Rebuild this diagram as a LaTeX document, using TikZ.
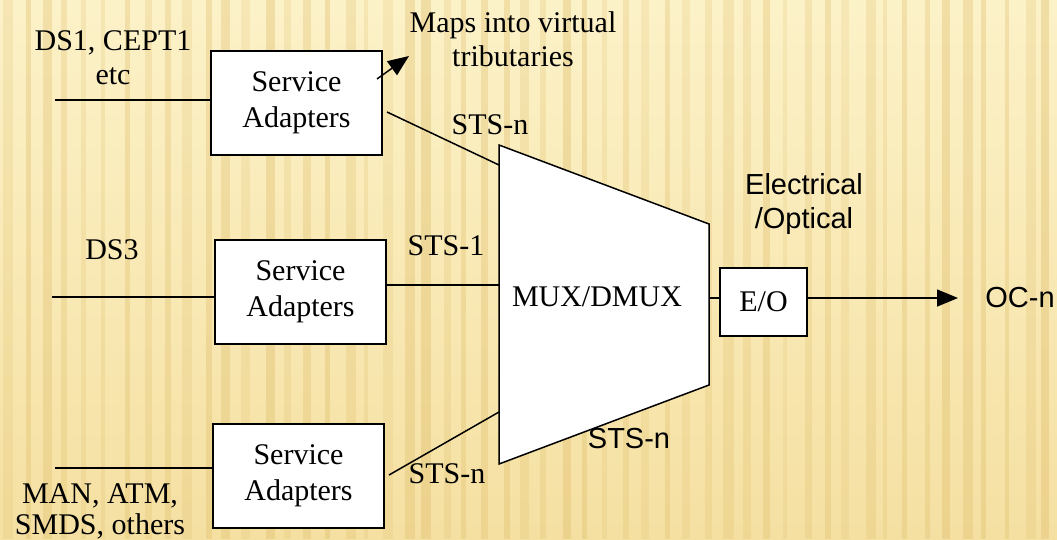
\documentclass[tikz,border=0pt]{standalone}
\usepackage{fontspec}
\setmainfont{Liberation Serif}
\setsansfont{Liberation Sans}
\usetikzlibrary{arrows.meta}
\definecolor{bgtop}{RGB}{252,242,200}
\definecolor{bgbot}{RGB}{245,224,162}
\definecolor{stripe}{RGB}{222,188,105}
\begin{document}
\begin{tikzpicture}[x=1pt,y=-1pt,
  wire/.style={line width=1.5pt},
  arr/.style={line width=1.5pt,-{Triangle[length=21pt,width=17pt]}},
  adapter/.style={draw,fill=white,line width=1.5pt,inner sep=0pt,
    minimum width=171pt,minimum height=104pt,align=center,
    font=\fontsize{30}{36}\selectfont},
  eobox/.style={draw,fill=white,line width=1.5pt,inner sep=0pt,
    minimum width=87pt,minimum height=68pt,
    font=\fontsize{30}{36}\selectfont},
  lbl/.style={align=center,inner sep=0pt,font=\fontsize{30}{34}\selectfont},
  slbl/.style={align=center,inner sep=0pt,font=\sffamily\fontsize{29}{34}\selectfont}]
\useasboundingbox (0,0) rectangle (1057,539);
% textured paper background
\shade[top color=bgtop,bottom color=bgbot] (0,0) rectangle (1057,539);
\pgfmathsetseed{7}
\foreach \i in {0,...,53}{
  \pgfmathsetmacro\w{4+7*rnd}
  \pgfmathsetmacro\o{0.18+0.2*rnd}
  \fill[stripe,opacity=\o] (\i*20+6*rnd,0) rectangle ++(\w,539);
}

% service adapters
\node[adapter] (b1) at (296.5,103) {Service\\Adapters};
\node[adapter] (b2) at (300.5,292) {Service\\Adapters};
\node[adapter] (b3) at (298.5,476) {Service\\Adapters};

% multiplexer trapezoid
\coordinate (tl) at (499,145);
\coordinate (tr) at (709,224);
\coordinate (br) at (709,385);
\coordinate (bl) at (499,464);
\filldraw[fill=white,line width=1.5pt,line join=miter] (tl) -- (tr) -- (br) -- (bl) -- cycle;
\node[lbl] (mux) at (597,297) {MUX/DMUX};

% electrical/optical converter
\node[eobox] (eo) at (763.5,302) {E/O};
\coordinate (mo) at (709,298);
\coordinate (oc) at (958,298);

% inputs
\coordinate (in1) at (55,100);
\coordinate (in2) at (52,297);
\coordinate (in3) at (55,468);
\draw[wire] (in1) -- (in1 -| b1.west);
\draw[wire] (in2) -- (in2 -| b2.west);
\draw[wire] (in3) -- (in3 -| b3.west);

% adapter outputs into the multiplexer
\coordinate (o1) at (387,112);
\coordinate (m1) at (499,165);
\coordinate (m2) at (499,285);
\coordinate (o3) at (389,475);
\coordinate (m3) at (499,412);
\draw[wire] (o1) -- (m1);
\draw[wire] (b2.east |- m2) -- (m2);
\draw[wire] (o3) -- (m3);

% virtual tributary arrow
\coordinate (vt0) at (377,79);
\coordinate (vt1) at (409,56);
\draw[arr] (vt0) -- (vt1);

% output chain
\draw[wire] (mo) -- (eo.west |- mo);
\draw[arr] (eo.east |- oc) -- (oc);

% labels
\node[lbl] (l1) at (113,58) {DS1, CEPT1\\etc};
\node[lbl] (l2) at (513,39) {Maps into virtual\\tributaries};
\node[lbl] (l3) at (490,125) {STS-n};
\node[lbl] (l4) at (112,250) {DS3};
\node[lbl] (l5) at (446,246) {STS-1};
\node[lbl] (l6) at (447,474) {STS-n};
\node[lbl,font=\fontsize{30}{31}\selectfont] (l7) at (100,511) {MAN, ATM,\\SMDS, others};
\node[slbl] (l8) at (804,204) {Electrical\\/Optical};
\node[slbl] (l9) at (629,439) {STS-n};
\node[slbl] (l10) at (1020,298) {OC-n};
\end{tikzpicture}
\end{document}
